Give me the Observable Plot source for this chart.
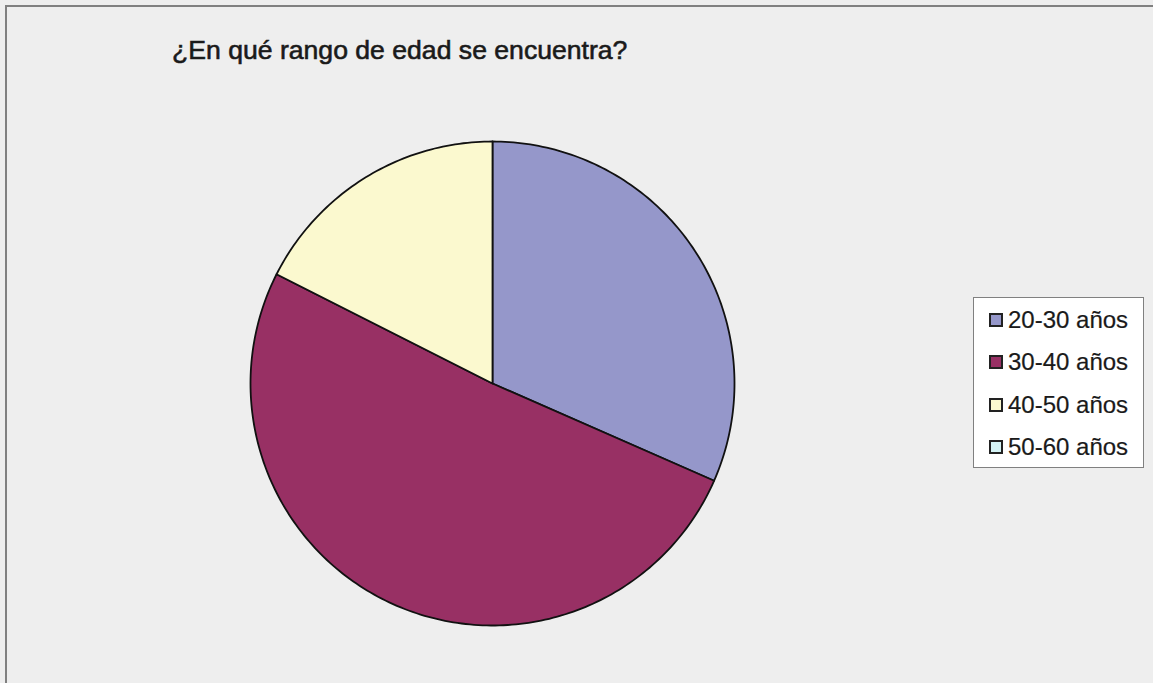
<!DOCTYPE html>
<html>
<head>
<meta charset="utf-8">
<script src="https://cdn.jsdelivr.net/npm/d3@7"></script>
<script src="https://cdn.jsdelivr.net/npm/@observablehq/plot@0.6"></script>
<style>
  html, body { margin: 0; padding: 0; background: #eeeeee; }
  #wrap { position: relative; width: 1153px; height: 683px; background: #eeeeee; overflow: hidden; font-family: "Liberation Sans", Arial, sans-serif; }
  #frame { position: absolute; left: 5px; top: 5px; width: 1200px; height: 800px; border-left: 2px solid #808080; border-top: 2px solid #808080; }
  #title { position: absolute; left: 172px; top: 35px; font-size: 26.6px; color: #1a1a1a; white-space: nowrap; -webkit-text-stroke: 0.6px #1a1a1a; }
  #chart { position: absolute; left: 0; top: 0; }
  #legend { position: absolute; left: 973px; top: 297px; width: 171px; height: 171px; background: #ffffff; border: 1px solid #808080; box-sizing: border-box; }
  .item { position: absolute; left: 15px; height: 30px; display: flex; align-items: center; font-size: 24px; color: #1a1a1a; white-space: nowrap; -webkit-text-stroke: 0.2px #1a1a1a; }
  .sw { width: 10px; height: 10px; border: 2px solid #222; margin-right: 5px; flex: none; }
</style>
</head>
<body>
<div id="wrap">
  <div id="frame"></div>
  <div id="chart"></div>
  <div id="title"></div>
  <div id="legend"></div>
</div>
<script>
const title = "¿En qué rango de edad se encuentra?";
const categories = ["20-30 años", "30-40 años", "40-50 años", "50-60 años"];
const values = [18, 29, 10, 0];
const colors = ["#9597ca", "#983064", "#fbf9cf", "#d4f3f5"];

document.getElementById("title").textContent = title;

const arcs = d3.pie().sort(null).value(d => d)(values);
const points = [];
arcs.forEach((a, i) => {
  if (a.endAngle - a.startAngle <= 0) return;
  const cat = categories[i];
  points.push({cat, x: 0, y: 0});
  const n = Math.max(2, Math.ceil((a.endAngle - a.startAngle) / (Math.PI / 180)));
  for (let k = 0; k <= n; k++) {
    const t = a.startAngle + (a.endAngle - a.startAngle) * k / n;
    points.push({cat, x: Math.sin(t), y: Math.cos(t)});
  }
  points.push({cat, x: 0, y: 0});
});

const chart = Plot.plot({
  width: 1153,
  height: 683,
  margin: 0,
  style: {background: "transparent"},
  x: {domain: [-1, 1], range: [250, 734], axis: null},
  y: {domain: [-1, 1], range: [625, 141], axis: null},
  color: {domain: categories, range: colors},
  marks: [
    Plot.line(points, {x: "x", y: "y", z: "cat", fill: "cat", stroke: "#111", strokeWidth: 1.8, strokeLinejoin: "round"})
  ]
});
document.getElementById("chart").appendChild(chart);

const legend = document.getElementById("legend");
categories.forEach((c, i) => {
  const it = document.createElement("div");
  it.className = "item";
  it.style.top = (7 + i * 42.3) + "px";
  const sw = document.createElement("span");
  sw.className = "sw";
  sw.style.background = colors[i];
  const tx = document.createElement("span");
  tx.textContent = c;
  it.appendChild(sw);
  it.appendChild(tx);
  legend.appendChild(it);
});
</script>
</body>
</html>
